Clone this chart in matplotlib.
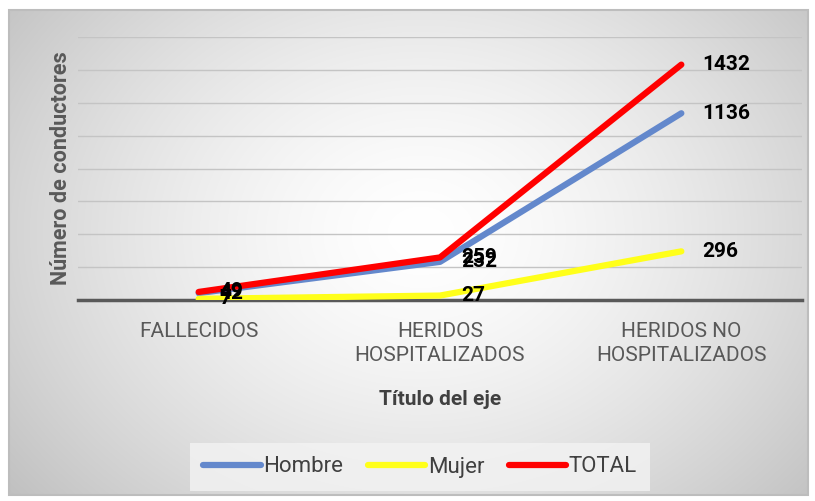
import matplotlib.pyplot as plt
import numpy as np
from matplotlib.patches import Rectangle

categories = ["FALLECIDOS", "HERIDOS\nHOSPITALIZADOS", "HERIDOS NO\nHOSPITALIZADOS"]
hombre = [42, 232, 1136]
mujer = [7, 27, 296]
total = [49, 259, 1432]

series = [("Hombre", hombre, "#6388cc"),
          ("Mujer", mujer, "#ffff1a"),
          ("TOTAL", total, "#ff0000")]

W, H = 815, 501
fig = plt.figure(figsize=(W / 100, H / 100), dpi=100)

# radial gradient background inside a gray border
bg = fig.add_axes([0, 0, 1, 1], zorder=0)
bg.set_xlim(0, W)
bg.set_ylim(H, 0)
bg.axis("off")
yy, xx = np.mgrid[0:H, 0:W]
r = np.sqrt(((xx - 420) / 500) ** 2 + ((yy - 230) / 400) ** 2)
shade = 1 - 0.22 * np.clip(r, 0, 1.2) ** 1.5
img = np.dstack([shade, shade, shade])
bg.imshow(img, extent=(9, 808, 495, 10), aspect="auto")
bg.add_patch(Rectangle((9, 10), 799, 485, fill=False, edgecolor="#bdbdbd", lw=1.5))

ax = fig.add_axes([78 / W, 201 / H, 724 / W, (300 - 37) / H], zorder=1)
ax.patch.set_alpha(0)
x = np.arange(len(categories))

for name, vals, col in series:
    ax.plot(x, vals, color=col, lw=4.5, solid_capstyle="round", label=name, zorder=3)

for name, vals, col in series:
    for xi, v in zip(x, vals):
        ax.annotate(str(v), (xi, v), xytext=(15, 0), textcoords="offset points",
                    ha="left", va="center", fontsize=15, fontweight="bold",
                    family="Roboto", color="black", zorder=4)

ax.set_xlim(-0.5, 2.5)
ax.set_ylim(0, 1600)
ax.set_yticks(np.arange(200, 1601, 200))
ax.yaxis.grid(True, color="#c4c4c4", lw=1)
ax.set_axisbelow(True)
ax.tick_params(axis="y", left=False, labelleft=False)
ax.set_xticks(x)
ax.set_xticklabels(categories, family="Roboto", fontsize=15, color="#595959", linespacing=1.3)
ax.tick_params(axis="x", length=0, pad=16)
for s in ["top", "right", "left"]:
    ax.spines[s].set_visible(False)
ax.spines["bottom"].set_color("#595959")
ax.spines["bottom"].set_linewidth(2.5)

ax.set_ylabel("Número de conductores", family="Roboto", fontsize=15.5, fontweight="bold",
              color="#595959", labelpad=4)
ax.set_xlabel("Título del eje", family="Roboto", fontsize=15, fontweight="bold",
              color="#404040", labelpad=18)

leg = fig.legend(loc="center", bbox_to_anchor=(420 / W, 1 - 467 / H), ncol=3,
                 frameon=True, fancybox=False, edgecolor="none", facecolor="#f3f3f3",
                 prop={"family": "Roboto", "size": 16}, handlelength=2.6,
                 handletextpad=0.1, columnspacing=1.1, borderpad=0.6, borderaxespad=0)
for t in leg.get_texts():
    t.set_color("#404040")

fig.savefig("out.png", dpi=100)
